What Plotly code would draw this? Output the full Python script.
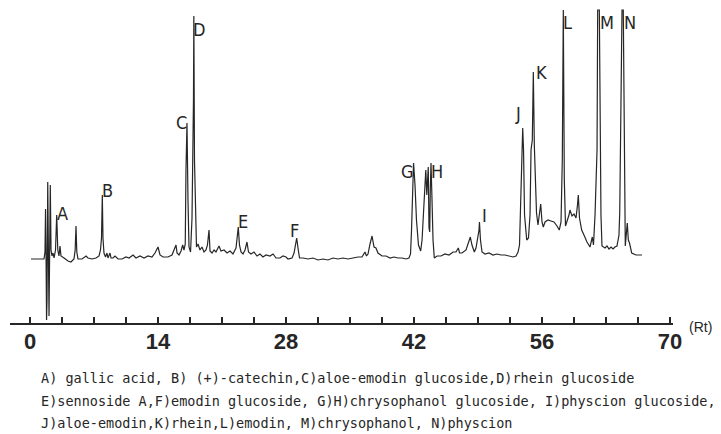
import plotly.graph_objects as go

# HPLC chromatogram, retention time (min) vs detector response (arbitrary units)
rt = [
    0.11, 1.53, 1.64, 1.70, 1.75, 1.81, 1.86, 1.94, 2.00, 2.08, 2.14, 2.22, 2.30, 2.41, 2.52, 2.63,
    2.79, 2.92, 3.04, 3.17, 3.28, 3.39, 3.72, 4.16, 4.48, 4.81, 4.94, 5.03, 5.12, 5.25, 5.69, 6.13,
    6.34, 6.78, 7.22, 7.55, 7.71, 7.82, 7.91, 7.98, 8.09, 8.26, 8.42, 8.53, 8.75, 8.86, 9.08, 9.30,
    9.63, 10.06, 10.50, 10.83, 11.27, 11.59, 12.03, 12.47, 12.91, 13.34, 13.67, 14.00, 14.22, 14.55,
    15.09, 15.53, 15.75, 15.97, 16.08, 16.30, 16.52, 16.70, 16.84, 16.98, 17.06, 17.17, 17.28, 17.39,
    17.56, 17.72, 17.88, 17.92, 17.99, 18.10, 18.21, 18.38, 18.59, 18.81, 19.03, 19.25, 19.41, 19.58,
    19.69, 19.91, 20.13, 20.34, 20.67, 20.89, 21.22, 21.55, 21.88, 22.20, 22.53, 22.70, 22.78, 22.91,
    23.08, 23.30, 23.52, 23.73, 23.90, 24.17, 24.50, 24.83, 25.16, 25.48, 25.81, 26.25, 26.58, 26.91,
    27.34, 27.67, 28.00, 28.22, 28.66, 28.88, 29.04, 29.17, 29.31, 29.48, 29.86, 30.41, 30.95, 31.50,
    32.05, 32.59, 33.14, 33.69, 34.23, 34.78, 35.33, 35.88, 36.31, 36.64, 36.80, 36.97, 37.19, 37.41,
    37.63, 37.84, 38.06, 38.50, 38.94, 39.38, 39.81, 40.25, 40.69, 41.13, 41.45, 41.62, 41.73, 41.84,
    41.95, 42.11, 42.27, 42.49, 42.73, 42.88, 43.04, 43.15, 43.29, 43.40, 43.48, 43.56, 43.64, 43.72,
    43.78, 43.86, 43.97, 44.08, 44.22, 44.52, 44.95, 45.39, 45.83, 46.27, 46.59, 46.85, 46.98, 47.25,
    47.69, 47.96, 48.16, 48.34, 48.60, 48.78, 48.95, 49.11, 49.16, 49.27, 49.44, 49.77, 50.20, 50.64,
    51.08, 51.52, 51.95, 52.39, 52.83, 53.16, 53.38, 53.54, 53.65, 53.76, 53.89, 53.98, 54.09, 54.33,
    54.52, 54.69, 54.80, 54.94, 55.05, 55.16, 55.29, 55.40, 55.56, 55.73, 55.86, 56.00, 56.14, 56.33,
    56.66, 56.98, 57.31, 57.64, 57.89, 58.08, 58.22, 58.33, 58.44, 58.57, 58.73, 58.95, 59.06, 59.28,
    59.50, 59.72, 59.88, 59.97, 60.10, 60.34, 60.59, 60.92, 61.25, 61.50, 61.63, 61.80, 62.02, 62.09,
    62.27, 62.38, 62.45, 62.56, 62.89, 63.11, 63.33, 63.55, 63.77, 63.98, 64.20, 64.42, 64.50, 64.64,
    64.75, 64.89, 64.97, 65.05, 65.11, 65.24, 65.33, 65.44, 65.57, 65.81, 66.28, 66.94,
]
signal = [
    1, 1, 8, 51, 10, -60, -40, 78, 20, -56, 0, 75, 10, 4, 7, 2,
    10, 45, 10, 4, 14, 4, 2, -1, -2, 1, 10, 34, 8, 1, 1, 4,
    2, 1, 2, 4, 10, 22, 65, 22, 7, 3, 7, 2, 7, 2, 2, 4,
    1, 1, 3, 2, 5, 2, 4, 2, 4, 3, 7, 13, 5, 3,
    3, 5, 10, 15, 7, 5, 9, 15, 10, 16, 90, 137, 60, 13,
    8, 42, 160, 244, 100, 35, 13, 16, 10, 13, 8, 10, 15, 30,
    9, 7, 10, 8, 14, 9, 10, 7, 9, 6, 12, 26, 33, 15,
    8, 6, 10, 18, 8, 6, 8, 4, 6, 3, 5, 4, 6, 2,
    2, 4, 3, 1, 2, 7, 16, 22, 12, 2, 2, 1, 2, 0,
    1, 0, 2, 1, 2, 1, 2, 3, 3, 8, 4, 6, 16, 24,
    13, 12, 7, 4, 4, 2, 3, 2, 2, 1, 2, 6, 30, 75,
    97, 75, 40, 15, 9, 20, 45, 75, 90, 65, 75, 93, 32, 28,
    70, 97, 60, 20, 2, 4, 4, 6, 5, 8, 8, 12, 7, 7,
    10, 17, 23, 15, 8, 12, 22, 30, 38, 20, 8, 6, 7, 5,
    6, 5, 5, 4, 3, 4, 8, 15, 60, 112, 132, 110, 45, 20,
    22, 45, 110, 120, 188, 115, 60, 47, 35, 45, 56, 38, 33, 38,
    40, 39, 38, 34, 30, 38, 100, 250, 80, 34, 38, 45, 50, 44,
    46, 42, 55, 65, 42, 30, 25, 18, 13, 23, 15, 45, 110, 250,
    250, 110, 45, 14, 12, 14, 11, 13, 11, 13, 14, 25, 47, 160,
    250, 250, 150, 30, 14, 28, 37, 20, 17, 7, 5, 5,
]

# peak letters and where they sit
peak_ids = ["A", "B", "C", "D", "E", "F", "G", "H", "I", "J", "K", "L", "M", "N"]
peak_rt = [3.50, 8.53, 16.52, 18.48, 23.30, 28.88, 41.34, 44.52, 49.66, 53.38, 55.89, 58.84, 63.11, 65.63]
peak_y = [47, 70, 138, 231, 39, 30, 89, 89, 45, 147, 188, 238, 238, 238]

tick_vals = [i * 3.5 for i in range(21)]
tick_text = [str(int(v)) if v % 14 == 0 else "" for v in tick_vals]

caption = [
    "A) gallic acid, B) (+)-catechin,C)aloe-emodin glucoside,D)rhein glucoside",
    "E)sennoside A,F)emodin glucoside, G)H)chrysophanol glucoside, I)physcion glucoside,",
    "J)aloe-emodin,K)rhein,L)emodin, M)chrysophanol, N)physcion",
]

INK = "#262626"
NARROW = "Liberation Sans Narrow, Arial Narrow, DejaVu Sans Condensed, Liberation Sans, sans-serif"

fig = go.Figure()
fig.add_trace(go.Scatter(
    x=rt, y=signal, mode="lines",
    line=dict(color=INK, width=1.2),
    hoverinfo="skip", showlegend=False,
))

for pid, px_, py_ in zip(peak_ids, peak_rt, peak_y):
    fig.add_annotation(
        x=px_, y=py_, text=pid, showarrow=False,
        font=dict(family=NARROW, size=18, color=INK),
    )

# caption under the axis
for i, line in enumerate(caption):
    fig.add_annotation(
        xref="paper", yref="paper", x=0.044, y=-0.175 - i * 0.072,
        xanchor="left", yanchor="middle", text=line, showarrow=False,
        font=dict(family="DejaVu Sans Mono, Liberation Mono, monospace", size=13.5, color=INK),
    )

fig.add_annotation(
    xref="paper", yref="paper", x=1.021, y=-0.012, xanchor="left", yanchor="middle",
    text="(Rt)", showarrow=False,
    font=dict(family="Liberation Sans, Arial, sans-serif", size=14, color=INK),
)

# page body adds an 8px offset, so the figure is sized to fit the window
fig.update_layout(
    width=713, height=426,
    margin=dict(l=2, r=48, t=0, b=111),
    plot_bgcolor="white", paper_bgcolor="white",
    showlegend=False,
)
fig.update_xaxes(
    range=[-2.1875, 70.328],
    showgrid=False, zeroline=False,
    showline=True, linecolor=INK, linewidth=2,
    ticks="inside", ticklen=6, tickwidth=1.5, tickcolor=INK,
    tickmode="array", tickvals=tick_vals, ticktext=tick_text,
    tickfont=dict(family="Liberation Sans, Arial, sans-serif", size=22, color=INK, weight="bold"),
    ticklabelstandoff=-2,
    automargin=False,
)
fig.update_yaxes(range=[-63, 252], visible=False)

fig.write_html("out.html")
